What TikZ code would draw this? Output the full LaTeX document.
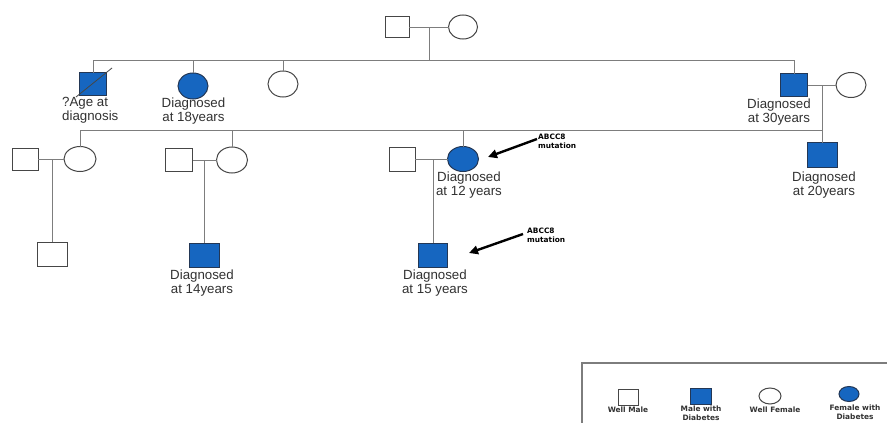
\documentclass[tikz,border=0pt]{standalone}
\usepackage{fontspec}
\setmainfont{Liberation Sans}
\newfontfamily\legfont{DejaVu Sans}
\usetikzlibrary{shapes.geometric,arrows.meta}
\definecolor{dblue}{RGB}{22,102,192}
\definecolor{affline}{RGB}{35,55,85}
\definecolor{symline}{RGB}{70,70,70}
\definecolor{linegray}{RGB}{125,125,125}
\definecolor{textgray}{RGB}{50,50,50}
\begin{document}
\begin{tikzpicture}[x=1pt,y=-1pt,
  male/.style={rectangle,draw=symline,line width=1pt,minimum width=27pt,minimum height=23pt,inner sep=0pt,outer sep=0pt},
  female/.style={ellipse,draw=symline,line width=1pt,minimum width=30pt,minimum height=25pt,inner sep=0pt,outer sep=0pt},
  aff/.style={fill=dblue,draw=affline},
  link/.style={draw=linegray,line width=0.9pt},
  lab/.style={font=\fontsize{13.3}{13.8}\selectfont,align=center,inner sep=0pt,anchor=north,text=textgray},
  note/.style={font=\legfont\bfseries\fontsize{7.4}{8.8}\selectfont,align=left,inner sep=0pt,anchor=north west,text=black},
  leg/.style={font=\legfont\bfseries\fontsize{7.4}{9}\selectfont,align=center,inner sep=0pt,text=textgray},
  arr/.style={line width=2.4pt,-{Triangle[length=9pt,width=8.5pt]}},
]
\useasboundingbox (0,0) rectangle (887,423);
\fill[white] (0,0) rectangle (887,423);

% Generation I
\node[male,minimum width=24pt,minimum height=21pt] (I1) at (397,27) {};
\node[female,minimum width=29pt,minimum height=24pt] (I2) at (463,27) {};
\coordinate (m1) at (429,27);
\coordinate (s1) at (429,60);

% Generation II
\node[male,aff] (II1) at (93,84) {};
\node[female,aff,minimum height=26pt] (II2) at (193,86) {};
\node[female,minimum height=26pt] (II3) at (283,84) {};
\node[male,aff] (II4) at (794,85) {};
\node[female] (II5) at (851,85) {};
\coordinate (m2) at (822,85);
\coordinate (s2) at (822,130);

% Generation III
\node[male,minimum width=26pt,minimum height=22pt] (III1) at (25,159) {};
\node[female,minimum width=32pt] (III2) at (80,159) {};
\node[male] (III3) at (179,160) {};
\node[female,minimum width=31pt,minimum height=26pt] (III4) at (232,160) {};
\node[male,minimum width=26pt,minimum height=24pt] (III5) at (402,159) {};
\node[female,aff,minimum width=31pt] (III6) at (463,159) {};
\node[male,aff,minimum width=30pt,minimum height=25pt] (III7) at (822,155) {};
\coordinate (m3) at (52,159);
\coordinate (m4) at (204,160);
\coordinate (m5) at (433,159);

% Generation IV
\node[male,minimum width=30pt,minimum height=24pt] (IV1) at (52,254) {};
\node[male,aff,minimum width=30pt,minimum height=24pt] (IV2) at (204,255) {};
\node[male,aff,minimum width=29pt,minimum height=24pt] (IV3) at (433,255) {};

% connectors
\draw[link] (I1) -- (I2);
\draw[link] (m1) -- (s1);
\draw[link] (II1.north) |- (s1);
\draw[link] (s1) -| (II4.north);
\draw[link] (II2.north) -- (II2.north |- s1);
\draw[link] (II3.north) -- (II3.north |- s1);
\draw[link] (II4) -- (II5);
\draw[link] (m2) -- (III7.north);
\draw[link] (III2.north) |- (s2);
\draw[link] (III4.north) -- (III4.north |- s2);
\draw[link] (III6.north) -- (III6.north |- s2);
\draw[link] (III1) -- (III2);
\draw[link] (III3) -- (III4);
\draw[link] (III5) -- (III6);
\draw[link] (m3) -- (IV1.north);
\draw[link] (m4) -- (IV2.north);
\draw[link] (m5) -- (IV3.north);

% slash on II1
\coordinate (sl1) at (76,97);
\coordinate (sl2) at (112,68);
\draw[draw=symline,line width=0.8pt] (sl1) -- (sl2);

% labels
\node[lab,anchor=north west,align=left] (t1) at (62,97) {?Age at\\diagnosis};
\node[lab] (t2) at (193.5,98) {Diagnosed\\at 18years};
\node[lab] (t3) at (779,99) {Diagnosed\\at 30years};
\node[lab] (t4) at (824,172) {Diagnosed\\at 20years};
\node[lab] (t5) at (469,172) {Diagnosed\\at 12 years};
\node[lab] (t6) at (202,270) {Diagnosed\\at 14years};
\node[lab] (t7) at (435,270) {Diagnosed\\at 15 years};

% arrows
\coordinate (a1s) at (537,139);
\coordinate (a1e) at (488,157);
\coordinate (a2s) at (523,234);
\coordinate (a2e) at (469,253);
\draw[arr] (a1s) -- (a1e);
\draw[arr] (a2s) -- (a2e);
\node[note] (n1) at (538,134) {ABCC8\\mutation};
\node[note] (n2) at (527,228) {ABCC8\\mutation};

% legend
\draw[draw=linegray,line width=1.3pt] (890,363) -- (582,363) -- (582,426);
\node[male,minimum width=20pt,minimum height=16pt] (L1) at (628,397) {};
\node[male,aff,minimum width=21pt,minimum height=16pt] (L2) at (701,396) {};
\node[female,minimum width=22pt,minimum height=16pt] (L3) at (770,396) {};
\node[female,aff,minimum width=20pt,minimum height=15pt] (L4) at (849,394) {};
\node[leg] (lt1) at (628,410) {Well Male};
\node[leg] (lt2) at (701,413) {Male with\\Diabetes};
\node[leg] (lt3) at (775,410) {Well Female};
\node[leg] (lt4) at (855,412) {Female with\\Diabetes};
\end{tikzpicture}
\end{document}
